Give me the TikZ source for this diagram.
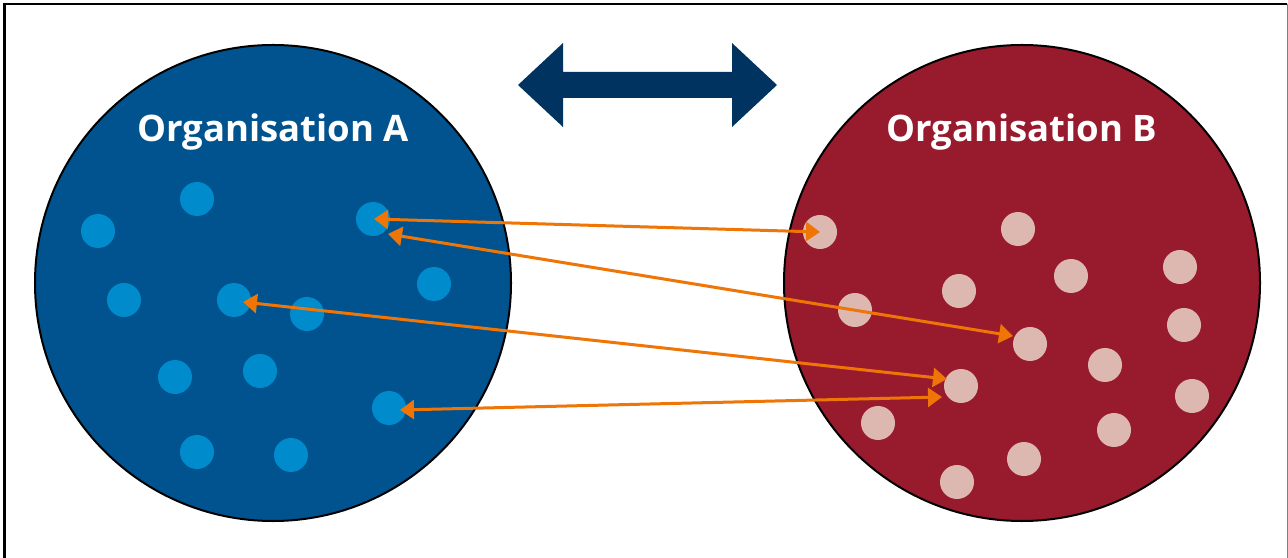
\documentclass[tikz,border=0pt]{standalone}
\usepackage{fontspec}
\setmainfont{Open Sans}
\usetikzlibrary{arrows.meta,calc}
\definecolor{orgA}{HTML}{00538F}
\definecolor{dotA}{HTML}{008BCC}
\definecolor{orgB}{HTML}{981A2D}
\definecolor{dotB}{HTML}{DDB8B1}
\definecolor{link}{HTML}{EE7506}
\definecolor{bigarrow}{HTML}{00335F}
\begin{document}
\begin{tikzpicture}[x=1bp,y=-1bp,
  org/.style={circle,draw=black,line width=2bp,minimum size=476bp,inner sep=0pt},
  dota/.style={circle,fill=dotA,minimum size=34bp,inner sep=0pt},
  dotb/.style={circle,fill=dotB,minimum size=34bp,inner sep=0pt},
  title/.style={text=white,font=\bfseries\fontsize{36.5bp}{40bp}\selectfont},
  linkarrow/.style={draw=link,line width=3bp,{Triangle[length=14bp,width=19bp]}-{Triangle[length=14bp,width=19bp]}}]
\useasboundingbox (0,0) rectangle (1288,558);
\fill[white] (0,0) rectangle (1288,558);
% frame
\draw[line width=2.5bp] (4.5,560) -- (4.5,4) -- (1287,4);
\draw[line width=1bp,gray] (1287,4) -- (1287,560);
% big double arrow
\fill[bigarrow] (518,85) -- (563,43) -- (563,72) -- (732,72) -- (732,43) -- (777,85)
  -- (732,127) -- (732,98) -- (563,98) -- (563,127) -- cycle;
% organisations
\node[org,fill=orgA] (A) at (273,283) {};
\node[org,fill=orgB] (B) at (1022,283) {};
\node[title] (tA) at (273,132) {Organisation A};
\node[title] (tB) at (1022,132) {Organisation B};
% dots in A
\node[dota] (a1) at (98,231) {};
\node[dota] (a2) at (197,199) {};
\node[dota] (a3) at (373,219) {};
\node[dota] (a4) at (124,300) {};
\node[dota] (a5) at (234,300) {};
\node[dota] (a6) at (307,314) {};
\node[dota] (a7) at (434,284) {};
\node[dota] (a8) at (175,377) {};
\node[dota] (a9) at (260,371) {};
\node[dota] (a10) at (389,408) {};
\node[dota] (a11) at (197,452) {};
\node[dota] (a12) at (291,455) {};
% dots in B
\node[dotb] (b1) at (820,232) {};
\node[dotb] (b2) at (1018,229) {};
\node[dotb] (b3) at (1180,267) {};
\node[dotb] (b4) at (1071,276) {};
\node[dotb] (b5) at (959,291) {};
\node[dotb] (b6) at (855,310) {};
\node[dotb] (b7) at (1184,325) {};
\node[dotb] (b8) at (1030,344) {};
\node[dotb] (b9) at (1105,365) {};
\node[dotb] (b10) at (961,386) {};
\node[dotb] (b11) at (1192,396) {};
\node[dotb] (b12) at (878,423) {};
\node[dotb] (b13) at (1114,430) {};
\node[dotb] (b14) at (1024,459) {};
\node[dotb] (b15) at (957,482) {};
% links
\draw[linkarrow] ($(a3)+(1,0)$) -- (b1.center);
\draw[linkarrow] ($(a3)+(15,15)$) -- ($(b8)+(-17,-8)$);
\draw[linkarrow] ($(a5)+(9,2)$) -- ($(b10)+(-14,-7)$);
\draw[linkarrow] ($(a10)+(11,2)$) -- ($(b10)+(-19,11)$);
\end{tikzpicture}
\end{document}
